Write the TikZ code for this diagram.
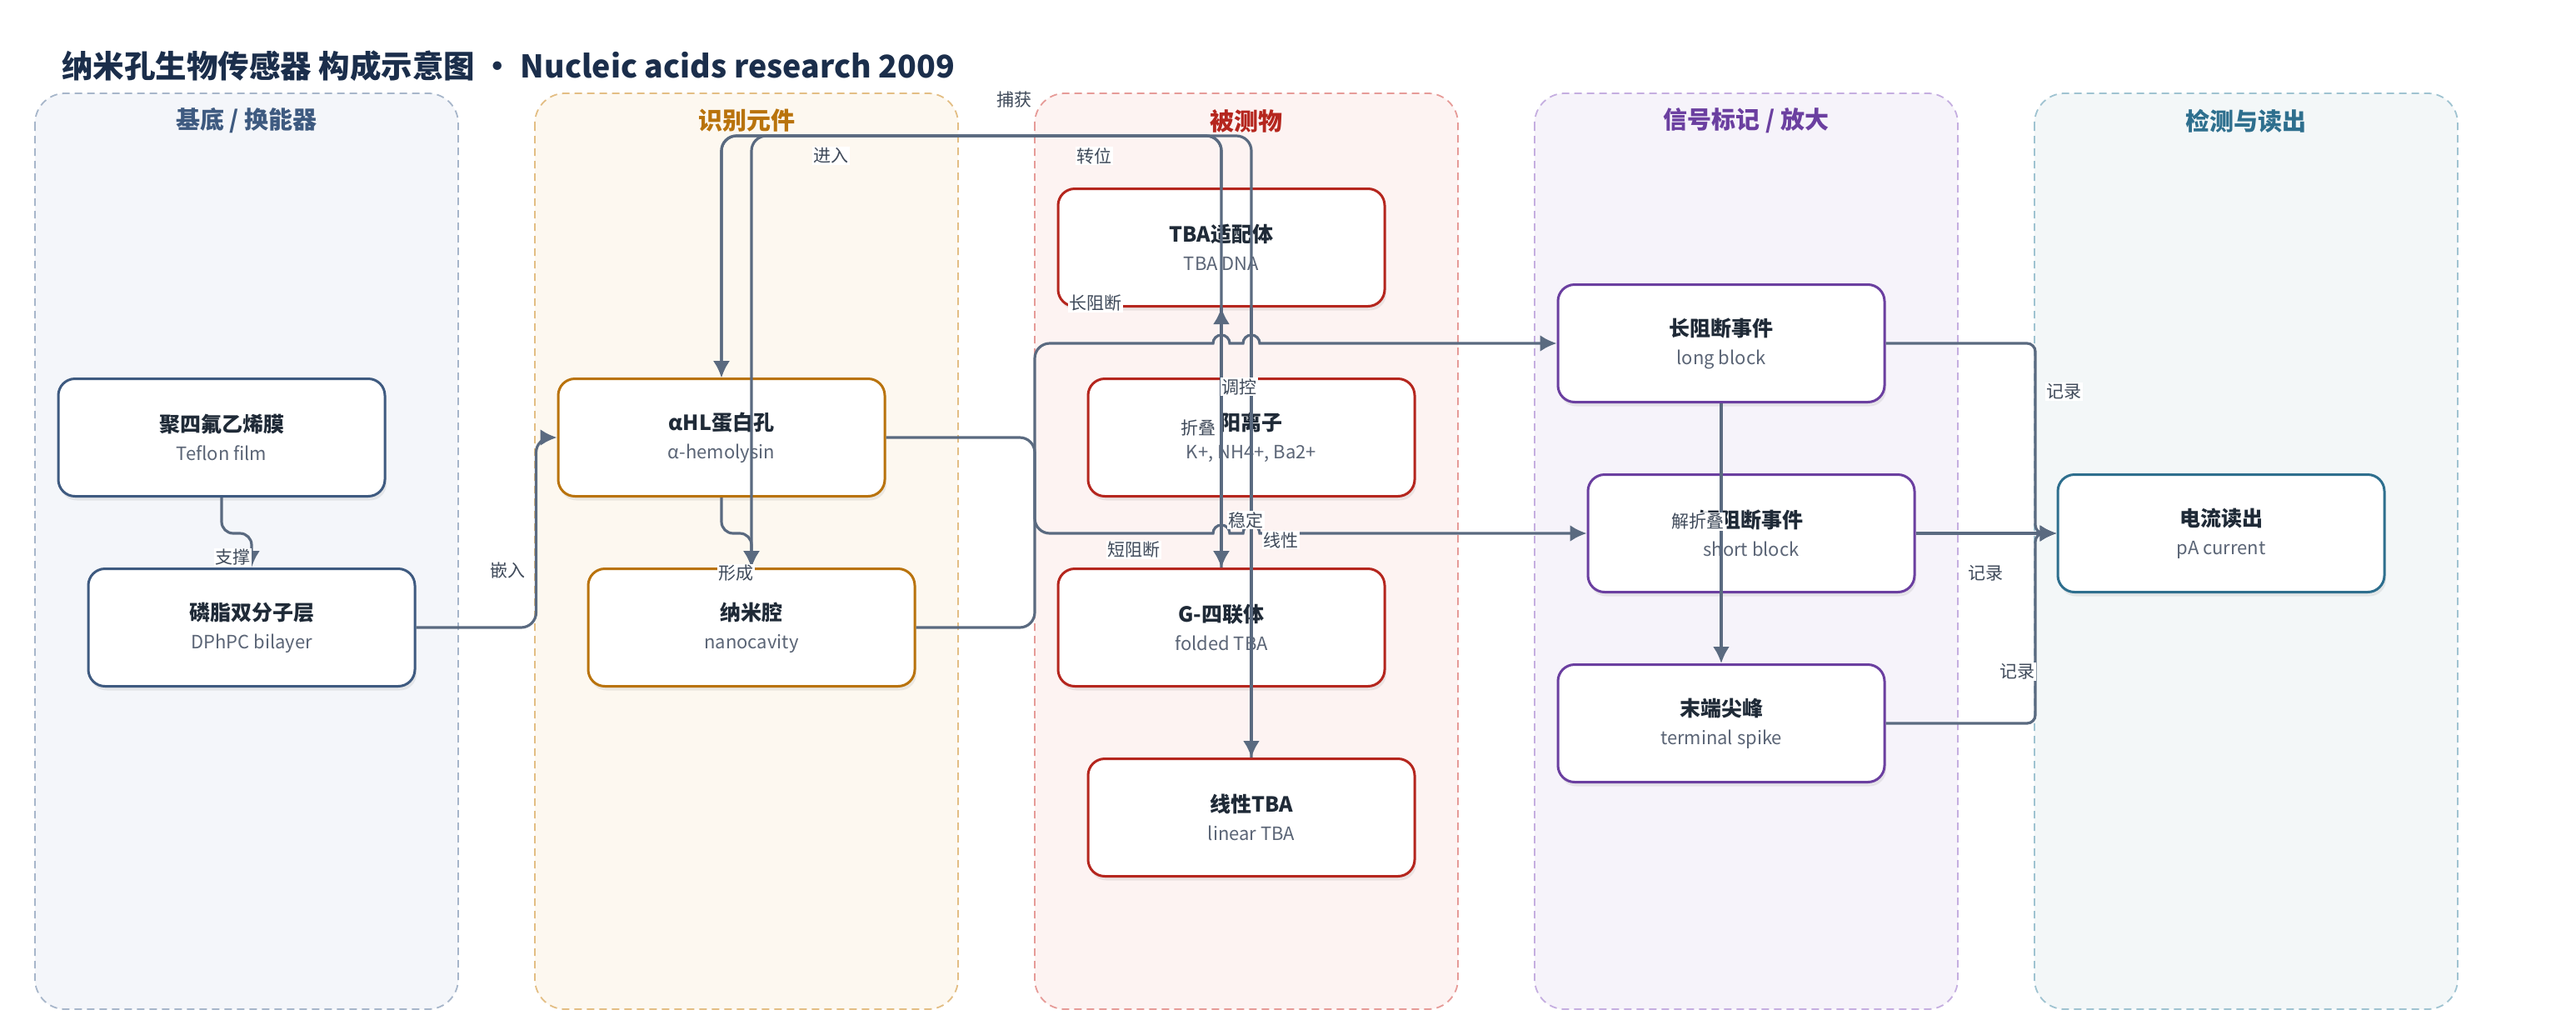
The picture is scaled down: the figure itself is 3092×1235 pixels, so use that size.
\documentclass[tikz,border=0pt]{standalone}
\usepackage{fontspec}
\setmainfont{Noto Sans CJK SC}
\usepackage{xcolor}
\usepackage{tikz}
\usetikzlibrary{arrows.meta, positioning, shadows}
\definecolor{titlec}{HTML}{1B2E4B}
\definecolor{textc}{HTML}{1F2A37}
\definecolor{subc}{HTML}{5B6576}
\definecolor{lblc}{HTML}{3F4A5A}
\definecolor{edgec}{HTML}{5A6A80}
\definecolor{baseC}{HTML}{3E5A80}\definecolor{baseF}{HTML}{F4F6FA}\definecolor{baseD}{HTML}{A7B6CA}
\definecolor{recC}{HTML}{B9730C}\definecolor{recF}{HTML}{FDF8F0}\definecolor{recD}{HTML}{E3BE84}
\definecolor{anaC}{HTML}{B5261E}\definecolor{anaF}{HTML}{FDF3F2}\definecolor{anaD}{HTML}{E69B98}
\definecolor{sigC}{HTML}{6B3FA0}\definecolor{sigF}{HTML}{F6F3FA}\definecolor{sigD}{HTML}{C5AEE0}
\definecolor{detC}{HTML}{2E6F8E}\definecolor{detF}{HTML}{F3F7F8}\definecolor{detD}{HTML}{9FC3D1}
\newcommand{\twoline}[2]{{\bfseries\fontsize{25}{34}\selectfont #1}\\{\color{subc}#2}}

\begin{document}
\begin{tikzpicture}[x=1pt, y=1pt]
		\tikzset{
			node distance=84pt and 200pt,
			lane/.style={dash pattern=on 9pt off 6pt, line width=1.8pt, rounded corners=36pt},
			head/.style={font=\bfseries\fontsize{29}{34}\selectfont},
			box/.style={rectangle, draw, solid, line width=3pt, fill=white, align=center, text=textc,
			font=\fontsize{22}{34}\selectfont, minimum width=392pt, minimum height=141pt, rounded corners=20pt,
			drop shadow={opacity=0.14, shadow xshift=2pt, shadow yshift=-5pt}},
			arr/.style={draw=edgec, line width=3.2pt, rounded corners=18pt, -{Latex[length=20pt, width=20pt]}},
			lbl/.style={fill=white, inner sep=1.5pt, text=lblc, font=\fontsize{21}{24}\selectfont}
		}
		\useasboundingbox (0,0) rectangle (3092,-1235);
		\node[anchor=west, inner sep=0pt, text=titlec, font=\bfseries\fontsize{37.5}{42}\selectfont](title) at (74,-79)
			{纳米孔生物传感器 构成示意图 · Nucleic acids research 2009};

		\draw[lane, draw=baseD, fill=baseF] (42,-112) rectangle (550,-1211);
		\draw[lane, draw=recD, fill=recF] (642,-112) rectangle (1150,-1211);
		\draw[lane, draw=anaD, fill=anaF] (1242,-112) rectangle (1750,-1211);
		\draw[lane, draw=sigD, fill=sigF] (1842,-112) rectangle (2350,-1211);
		\draw[lane, draw=detD, fill=detF] (2442,-112) rectangle (2950,-1211);
		\node[head, text=baseC](hbase) at (296,-145){基底 / 换能器};
		\node[head, text=recC](hrec) at (896,-145){识别元件};
		\node[head, text=anaC](hana) at (1496,-145){被测物};
		\node[head, text=sigC](hsig) at (2096,-145){信号标记 / 放大};
		\node[head, text=detC](hdet) at (2696,-145){检测与读出};

		\node[box, draw=baseC](teflon) at (266,-525){\twoline{聚四氟乙烯膜}{Teflon film}};
		\node[box, draw=baseC, below=of teflon, xshift=36pt](bilayer){\twoline{磷脂双分子层}{DPhPC bilayer}};
		\node[box, draw=recC](ahl) at (866,-525){\twoline{αHL蛋白孔}{α-hemolysin}};
		\node[box, draw=recC, below=of ahl, xshift=36pt](cavity){\twoline{纳米腔}{nanocavity}};
		\node[box, draw=anaC](tba) at (1466,-297){\twoline{TBA适配体}{TBA DNA}};
		\node[box, draw=anaC, below=of tba, xshift=36pt](cation){\twoline{阳离子}{K+, NH4+, Ba2+}};
		\node[box, draw=anaC, below=of cation, xshift=-36pt](gq){\twoline{G-四联体}{folded TBA}};
		\node[box, draw=anaC, below=of gq, xshift=36pt](linear){\twoline{线性TBA}{linear TBA}};
		\node[box, draw=sigC](longblk) at (2066,-412){\twoline{长阻断事件}{long block}};
		\node[box, draw=sigC, below=of longblk, xshift=36pt](shortblk){\twoline{短阻断事件}{short block}};
		\node[box, draw=sigC, below=of shortblk, xshift=-36pt](spike){\twoline{末端尖峰}{terminal spike}};
		\node[box, draw=detC](readout) at (2666,-640){\twoline{电流读出}{pA current}};

		\coordinate (busT) at (0,-163);
		\coordinate (busM) at (1242,0);
		\coordinate (busR) at (2443,0);

		\draw[arr, rounded corners=14pt](teflon.south) -- ++(0,-43) -| (bilayer.north);
		\draw[arr](bilayer.east) -- ++(144,0) |- (ahl.west);
		\draw[arr, rounded corners=14pt](ahl.south) -- ++(0,-43) -| (cavity.north);
		\draw[arr](tba.north) |- (busT -| ahl.north) -- (ahl.north);
		\draw[arr](gq.north) |- (busT -| cavity.north) -- (cavity.north);
		\draw[arr](linear.north) |- (busT -| ahl.north) -- (ahl.north);
		\draw[arr](cavity.east) -| (busM |- longblk.west) -- ++(80,0) [sharp corners] -- (1456,-412)
			arc[start angle=180, end angle=0, radius=10pt] -- (1492,-412)
			arc[start angle=180, end angle=0, radius=10pt] -- (longblk.west);
		\draw[arr](ahl.east) -| (busM |- shortblk.west) -- ++(80,0) [sharp corners] -- (1456,-640)
			arc[start angle=180, end angle=0, radius=10pt] -- (1492,-640)
			arc[start angle=180, end angle=0, radius=10pt] -- (shortblk.west);
		\draw[arr](tba.south) -- (gq.north);
		\draw[arr]([xshift=-36pt]cation.north) -- (tba.south);
		\draw[arr]([xshift=-36pt]cation.south) -- (gq.north);
		\draw[arr]([xshift=36pt]tba.south) -- (linear.north);
		\draw[arr](longblk.south) -- (spike.north);
		\draw[arr, rounded corners=10pt](longblk.east) -| (busR |- readout.west) -- (readout.west);
		\draw[arr](shortblk.east) -- (readout.west);
		\draw[arr, rounded corners=10pt](spike.east) -| (busR |- readout.west) -- (readout.west);

		\node[lbl](lsupport) at (279,-669){支撑};
		\node[lbl](lembed) at (609,-684){嵌入};
		\node[lbl](lform) at (883,-688){形成};
		\node[lbl](lenter) at (997,-187){进入};
		\node[lbl](lcapture) at (1217,-120){捕获};
		\node[lbl](ltrans) at (1313,-187){转位};
		\node[lbl](llong) at (1315,-364){长阻断};
		\node[lbl](ltune) at (1487,-464){调控};
		\node[lbl](lfold) at (1438,-513){折叠};
		\node[lbl](lstab) at (1495,-624){稳定};
		\node[lbl](llin) at (1537,-648){线性};
		\node[lbl](lshort) at (1361,-660){短阻断};
		\node[lbl](lunfold) at (2038,-626){解折叠};
		\node[lbl](lrec1) at (2477,-470){记录};
		\node[lbl](lrec2) at (2383,-688){记录};
		\node[lbl](lrec3) at (2421,-806){记录};
	\end{tikzpicture}
\end{document}
